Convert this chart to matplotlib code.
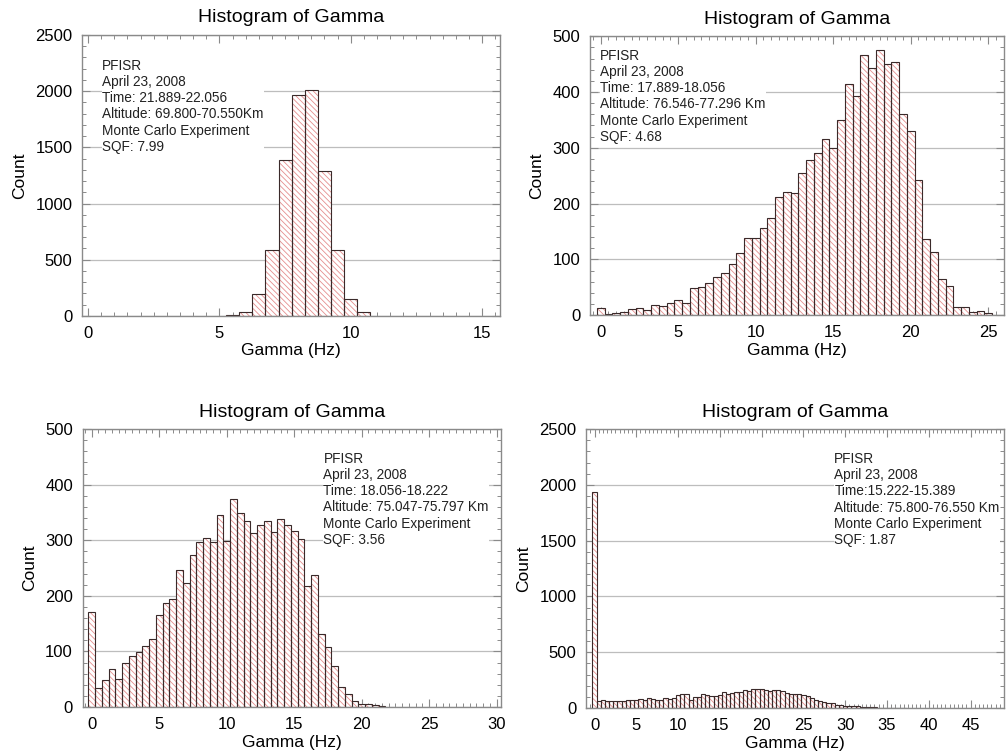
import numpy as np
import matplotlib
matplotlib.use("Agg")
import matplotlib.pyplot as plt
from matplotlib.ticker import MultipleLocator

plt.rcParams['font.family'] = ['Liberation Sans', 'DejaVu Sans']
plt.rcParams['hatch.linewidth'] = 0.6

BIN = 0.5

# Panel 1 (top-left)
p1_start = 5.5
p1_counts = [12, 36, 192, 590, 1383, 1961, 2006, 1293, 590, 147, 36]
p1_text = "PFISR\nApril 23, 2008\nTime: 21.889-22.056\nAltitude: 69.800-70.550Km\nMonte Carlo Experiment\nSQF: 7.99"

# Panel 2 (top-right)
p2_start = 0.0
p2_counts = [12, 2, 4, 6, 11, 12, 10, 18, 17, 21, 28, 22, 48, 51, 57, 69, 75, 91,
             112, 139, 139, 156, 174, 212, 221, 219, 255, 278, 290, 315, 300, 350,
             415, 392, 466, 443, 475, 451, 454, 360, 330, 242, 137, 113, 64, 52,
             15, 14, 6, 7, 3]
p2_text = "PFISR\nApril 23, 2008\nTime: 17.889-18.056\nAltitude: 76.546-77.296 Km\nMonte Carlo Experiment\nSQF: 4.68"

# Panel 3 (bottom-left)
p3_start = 0.0
p3_counts = [171, 35, 48, 68, 50, 80, 91, 99, 110, 122, 166, 187, 195, 246, 223,
             274, 296, 304, 296, 345, 298, 374, 349, 335, 313, 327, 335, 315, 339,
             328, 317, 303, 217, 238, 131, 108, 73, 36, 23, 10, 6, 5, 3, 2]
p3_text = "PFISR\nApril 23, 2008\nTime: 18.056-18.222\nAltitude: 75.047-75.797 Km\nMonte Carlo Experiment\nSQF: 3.56"

# Panel 4 (bottom-right)
p4_start = 0.0
p4_counts = [1940, 60, 69, 63, 63, 63, 60, 66, 72, 72, 69, 80, 72, 90, 84, 75, 69,
             87, 84, 90, 120, 128, 125, 69, 99, 99, 125, 120, 105, 111, 117, 143,
             128, 134, 146, 140, 158, 149, 167, 173, 170, 158, 149, 164, 164, 149,
             134, 128, 123, 125, 119, 104, 89, 75, 66, 51, 48, 48, 30, 25, 21, 20,
             18, 15, 8, 6, 5, 5, 4, 3, 3, 2, 2, 2, 1]
p4_text = "PFISR\nApril 23, 2008\nTime:15.222-15.389\nAltitude: 75.800-76.550 Km\nMonte Carlo Experiment\nSQF: 1.87"

panels = [
    dict(pos=[0.0815, 0.581, 0.4155, 0.3727], start=p1_start, counts=p1_counts,
         xlim=(-0.23, 15.68), ylim=(0, 2500), ymaj=500, ymin=100, text=p1_text,
         tx=0.048, ty=0.915),
    dict(pos=[0.5865, 0.582, 0.4115, 0.370], start=p2_start, counts=p2_counts,
         xlim=(-0.69, 26.02), ylim=(0, 500), ymaj=100, ymin=20, text=p2_text,
         tx=0.024, ty=0.955),
    dict(pos=[0.0822, 0.0623, 0.4155, 0.3687], start=p3_start, counts=p3_counts,
         xlim=(-0.67, 30.3), ylim=(0, 500), ymaj=100, ymin=20, text=p3_text,
         tx=0.576, ty=0.918),
    dict(pos=[0.5825, 0.061, 0.4155, 0.370], start=p4_start, counts=p4_counts,
         xlim=(-1.02, 49.0), ylim=(0, 2500), ymaj=500, ymin=100, text=p4_text,
         tx=0.594, ty=0.918),
]

fig = plt.figure(figsize=(10.06, 7.54), dpi=100)
spine_col = '#8a8a8a'
for p in panels:
    ax = fig.add_axes(p['pos'])
    counts = np.array(p['counts'])
    centers = p['start'] + BIN * np.arange(len(counts))
    ax.bar(centers, counts, width=BIN, facecolor='white', edgecolor='#e58e8e',
           hatch='\\' * 6, linewidth=0, zorder=2)
    ax.bar(centers, counts, width=BIN, fill=False, edgecolor='#3a2a2a',
           linewidth=0.8, zorder=3)
    ax.set_xlim(*p['xlim'])
    ax.set_ylim(*p['ylim'])
    ax.xaxis.set_major_locator(MultipleLocator(5))
    ax.xaxis.set_minor_locator(MultipleLocator(0.5))
    ax.yaxis.set_major_locator(MultipleLocator(p['ymaj']))
    ax.yaxis.set_minor_locator(MultipleLocator(p['ymin']))
    ax.grid(axis='y', which='major', color='#bdbdbd', linewidth=0.9, zorder=1)
    ax.set_axisbelow(True)
    ax.tick_params(which='both', direction='in', top=True, right=True,
                   color=spine_col, labelsize=12, pad=7)
    ax.tick_params(which='major', length=6, width=0.8)
    ax.tick_params(which='minor', length=3, width=0.7)
    for s in ax.spines.values():
        s.set_color(spine_col)
        s.set_linewidth(1.0)
        s.set_zorder(5)
    ax.set_title("Histogram of Gamma", fontsize=14, pad=9)
    ax.set_xlabel("Gamma (Hz)", fontsize=12.5, labelpad=2)
    ax.set_ylabel("Count", fontsize=12.5, labelpad=6)
    ax.text(p['tx'], p['ty'], p['text'], transform=ax.transAxes, fontsize=9.8,
            va='top', ha='left', linespacing=1.2, color='#222222', zorder=1.5,
            bbox=dict(facecolor='white', edgecolor='none', pad=0.3))

fig.savefig("out.png", dpi=100)
